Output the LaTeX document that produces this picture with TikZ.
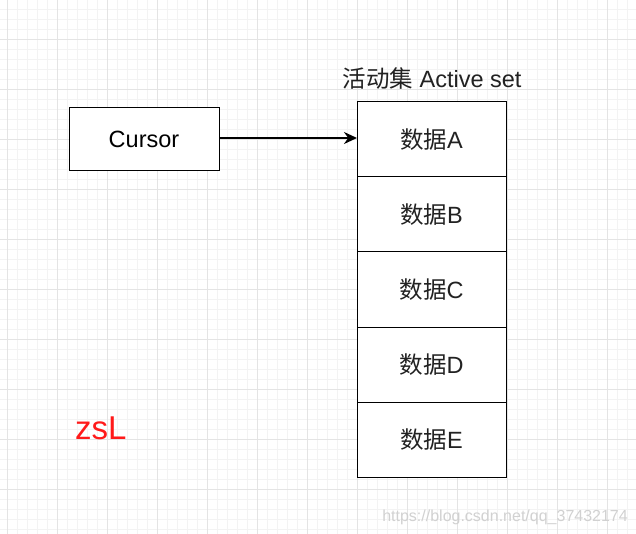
\documentclass[tikz,border=0pt]{standalone}
\usepackage{fontspec}
\setmainfont{Liberation Sans}
\newfontfamily\cjk{Noto Sans CJK SC}
\usetikzlibrary{arrows.meta}
\definecolor{gridminor}{HTML}{F3F3F3}
\definecolor{gridmajor}{HTML}{E4E4E4}
\definecolor{zsred}{HTML}{FF1A1A}
\definecolor{txt}{HTML}{222222}
\tikzset{
  box/.style={draw=black, line width=1pt, fill=white, minimum width=149pt, minimum height=75pt, inner sep=0pt, outer sep=0pt, text=txt, font=\fontsize{23.5}{26}\selectfont},
  cbox/.style={draw=black, line width=1pt, fill=white, minimum width=150pt, minimum height=63pt, inner sep=0pt, outer sep=0pt, font=\fontsize{23.5}{26}\selectfont},
  conn/.style={line width=2.2pt, -{Stealth[length=13pt,width=12pt]}},
}
\newcommand{\zh}[1]{{\cjk #1}}
\begin{document}
\begin{tikzpicture}[x=1pt,y=-1pt]
\useasboundingbox (0,0) rectangle (636,534);
\fill[white] (0,0) rectangle (636,534);
% minor grid
\foreach \x in {7,17,...,636} \draw[gridminor, line width=0.9pt] (\x,0) -- (\x,534);
\foreach \y in {9,19,...,534} \draw[gridminor, line width=0.9pt] (0,\y) -- (636,\y);
% major grid
\foreach \x in {7,57,...,636} \draw[gridmajor, line width=0.9pt] (\x,0) -- (\x,534);
\foreach \y in {39,89,...,534} \draw[gridmajor, line width=0.9pt] (0,\y) -- (636,\y);

\node[cbox] (cursor) at (144,139.5) {Cursor};
\node[box] (a) at (431.5,139.5) {\zh{数据}A};
\node[box] (b) at (431.5,214.5) {\zh{数据}B};
\node[box] (c) at (431.5,289.5) {\zh{数据}C};
\node[box] (d) at (431.5,364.5) {\zh{数据}D};
\node[box] (e) at (431.5,439.5) {\zh{数据}E};
\node[font=\fontsize{23.5}{26}\selectfont, text=txt, anchor=south, inner sep=0pt] (title) at (432,90) {\zh{活动集} Active set};
\draw[conn] (cursor.east |- 0,138) -- (a.west |- 0,138);
\node[font=\fontsize{33}{36}\selectfont, text=zsred, anchor=base west, inner sep=0pt] (zsl) at (75,439) {zsL};
\node[font=\fontsize{16}{18}\selectfont, text=black!18, anchor=base east, inner sep=0pt] (wm) at (628,521) {https://blog.csdn.net/qq\_37432174};
\end{tikzpicture}
\end{document}
